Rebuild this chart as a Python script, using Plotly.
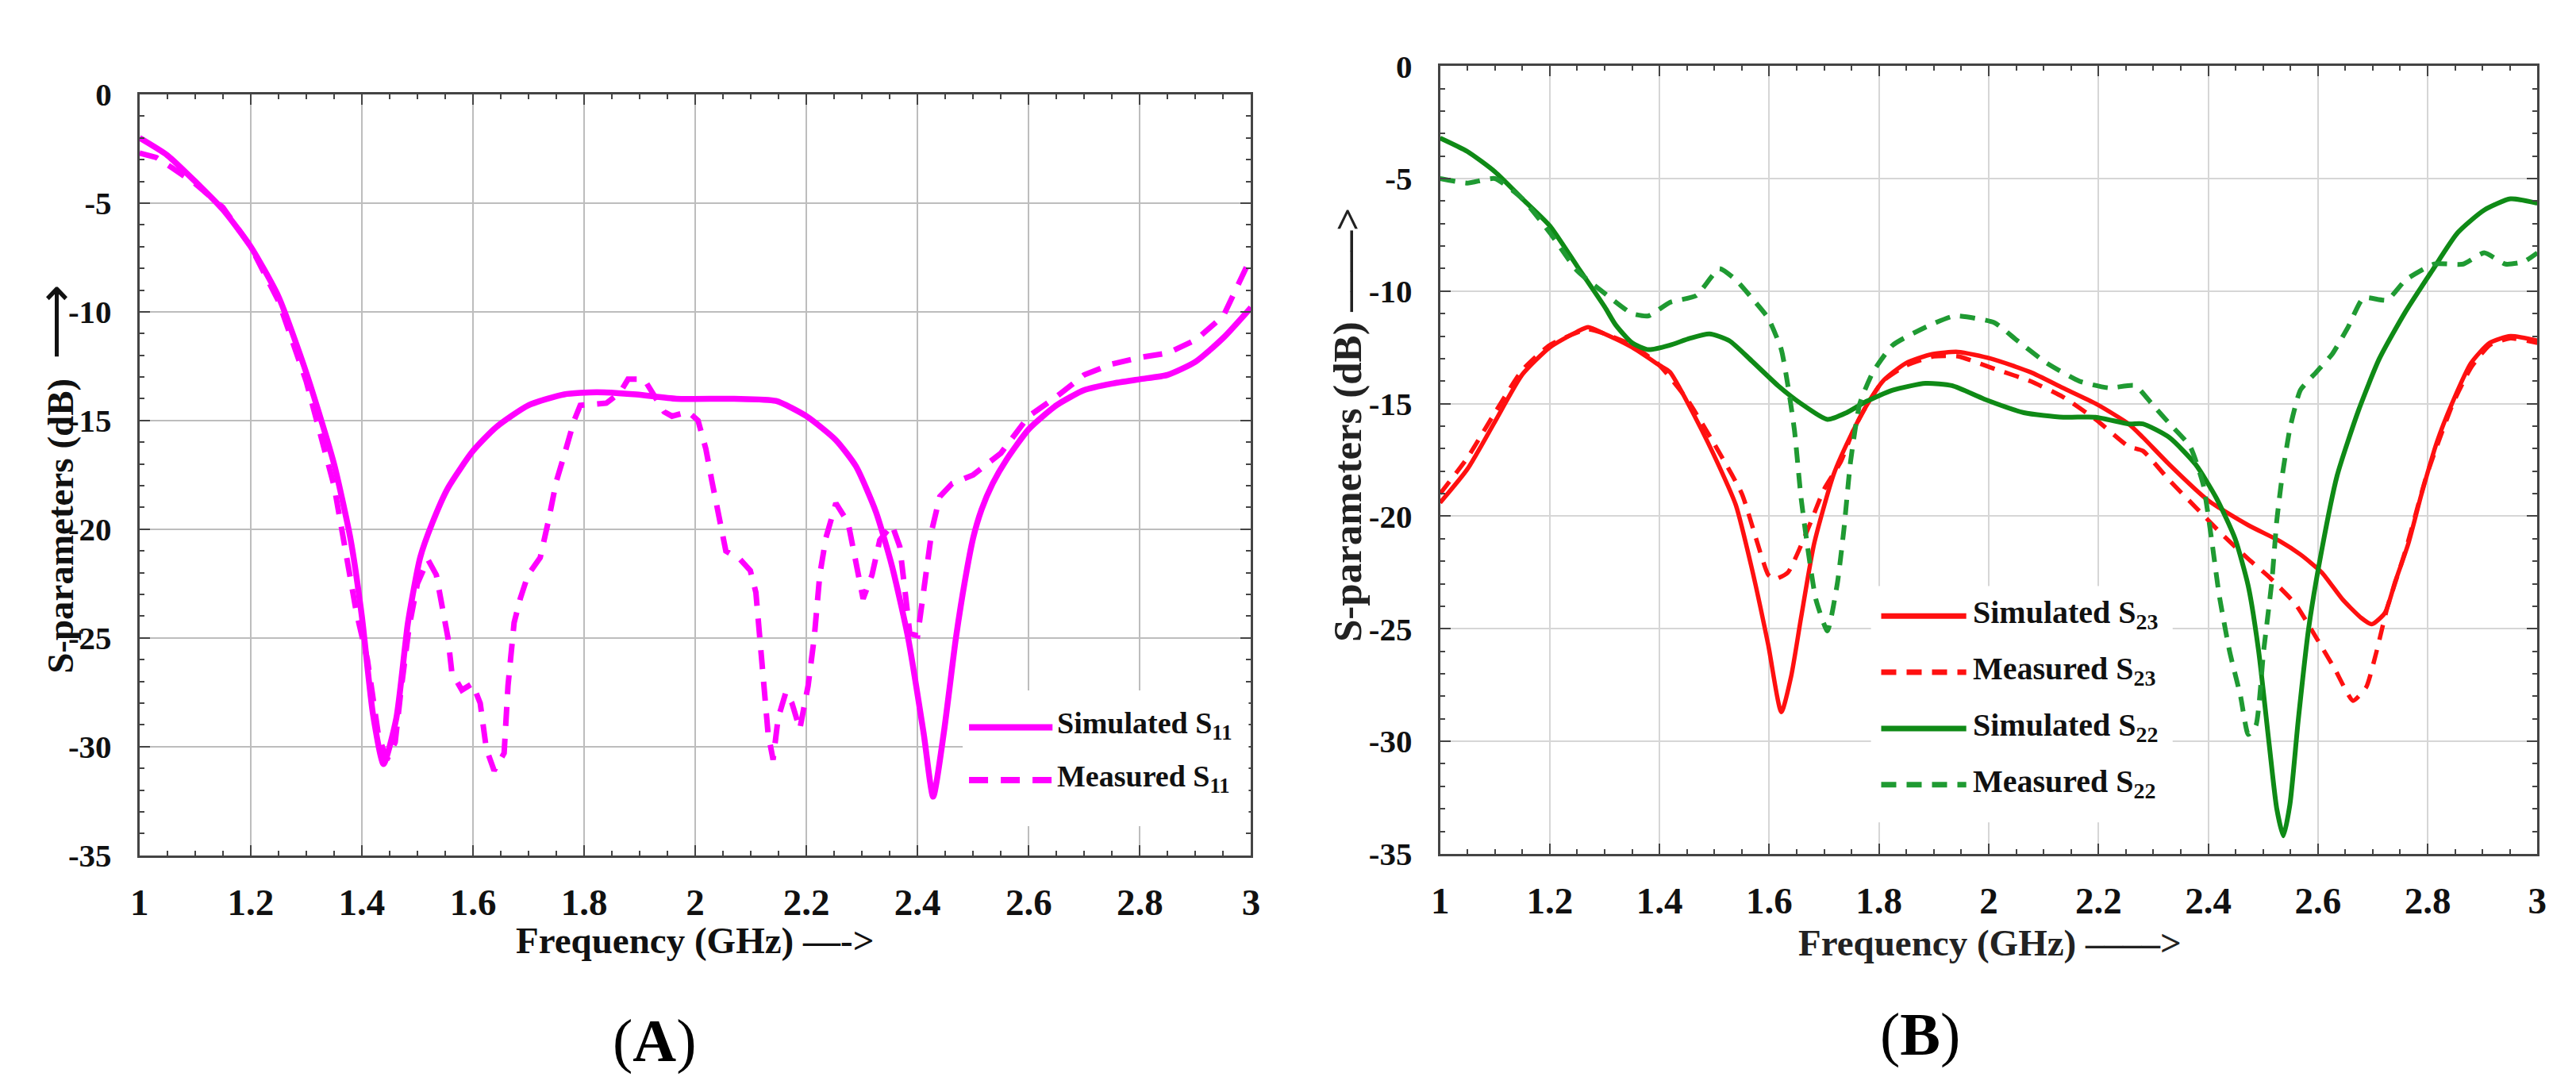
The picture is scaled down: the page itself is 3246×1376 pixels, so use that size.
import plotly.graph_objects as go

# ---------------- Data ----------------
# Panel A : S11
simA_f = [1.00, 1.05, 1.10, 1.15, 1.20, 1.25, 1.30, 1.35, 1.38, 1.40, 1.42, 1.439, 1.462, 1.483,
          1.505, 1.527, 1.555, 1.60, 1.642, 1.70, 1.764, 1.822, 1.894, 1.966, 2.07, 2.145, 2.20,
          2.253, 2.289, 2.325, 2.354, 2.383, 2.411, 2.428, 2.447, 2.469, 2.485, 2.50, 2.515, 2.535,
          2.56, 2.60, 2.65, 2.70, 2.75, 2.80, 2.85, 2.90, 2.95, 3.00]
simA_db = [-2.0, -2.8, -4.0, -5.3, -7.0, -9.3, -12.8, -17.0, -20.5, -24.0, -28.5, -30.8, -28.7, -24.3,
           -21.3, -19.7, -18.1, -16.4, -15.3, -14.3, -13.8, -13.7, -13.8, -14.0, -14.0, -14.1, -14.8,
           -15.9, -17.1, -19.2, -21.7, -25.0, -29.4, -32.3, -29.4, -25.0, -22.4, -20.4, -19.1, -17.9,
           -16.8, -15.4, -14.3, -13.6, -13.3, -13.1, -12.9, -12.3, -11.2, -9.8]

measA_f = [1.00, 1.03, 1.06, 1.10, 1.15, 1.20, 1.25, 1.30, 1.35, 1.37, 1.39, 1.41, 1.43, 1.445, 1.46,
           1.47, 1.485, 1.50, 1.519, 1.534, 1.545, 1.555, 1.562, 1.58, 1.599, 1.613, 1.624, 1.638,
           1.656, 1.663, 1.674, 1.685, 1.699, 1.721, 1.735, 1.75, 1.764, 1.782, 1.793, 1.822, 1.84,
           1.865, 1.879, 1.908, 1.922, 1.944, 1.958, 1.987, 2.005, 2.019, 2.03, 2.041, 2.055, 2.081,
           2.099, 2.109, 2.116, 2.124, 2.131, 2.14, 2.149, 2.163, 2.174, 2.188, 2.203, 2.214, 2.224,
           2.235, 2.253, 2.275, 2.289, 2.302, 2.318, 2.332, 2.354, 2.368, 2.379, 2.386, 2.40, 2.411,
           2.418, 2.426, 2.44, 2.462, 2.50, 2.55, 2.60, 2.65, 2.70, 2.75, 2.80, 2.85, 2.90, 2.95, 3.00]
measA_db = [-2.7, -2.9, -3.4, -4.1, -5.2, -7.0, -9.5, -13.2, -18.0, -21.0, -23.8, -26.0, -29.5, -30.6, -29.8,
            -27.5, -24.5, -22.5, -21.4, -22.1, -23.6, -25.0, -26.6, -27.4, -27.1, -28.0, -30.1, -31.1,
            -30.3, -27.2, -24.3, -23.2, -22.1, -21.3, -19.7, -17.8, -16.6, -15.0, -14.3, -14.25, -14.2,
            -13.7, -13.1, -13.1, -13.7, -14.6, -14.8, -14.6, -15.0, -16.3, -17.8, -19.2, -21.0, -21.4,
            -21.9, -22.9, -25.0, -27.2, -29.4, -30.6, -28.7, -27.5, -28.0, -29.2, -27.2, -25.0, -22.1,
            -20.4, -18.8, -19.7, -21.4, -23.2, -22.1, -20.5, -19.8, -20.8, -23.2, -24.8, -24.9, -22.9,
            -21.4, -20.0, -18.5, -17.9, -17.5, -16.5, -14.8, -13.9, -12.9, -12.4, -12.1, -11.9, -11.3, -10.2, -7.5]

# Panel B : S23 and S22
simS23_f = [1.00, 1.05, 1.10, 1.15, 1.20, 1.25, 1.27, 1.30, 1.35, 1.40, 1.419, 1.467, 1.509, 1.539,
            1.568, 1.598, 1.622, 1.64, 1.658, 1.682, 1.718, 1.753, 1.777, 1.807, 1.849, 1.897, 1.944,
            2.004, 2.076, 2.135, 2.195, 2.255, 2.281, 2.329, 2.40, 2.473, 2.53, 2.568, 2.607, 2.645,
            2.678, 2.698, 2.722, 2.741, 2.765, 2.789, 2.817, 2.846, 2.879, 2.913, 2.951, 3.00]
simS23_db = [-19.4, -17.9, -15.8, -13.7, -12.5, -11.8, -11.6, -11.9, -12.5, -13.3, -13.6, -15.7, -17.8, -19.5,
             -22.3, -25.7, -28.7, -27.1, -24.5, -21.2, -18.1, -16.2, -15.1, -14.0, -13.2, -12.8, -12.7,
             -13.0, -13.6, -14.3, -15.0, -15.9, -16.5, -17.7, -19.3, -20.4, -21.1, -21.7, -22.5, -23.7,
             -24.5, -24.8, -24.3, -22.9, -21.2, -19.0, -16.7, -14.9, -13.2, -12.3, -12.0, -12.2]

measS23_f = [1.00, 1.05, 1.10, 1.15, 1.20, 1.27, 1.35, 1.40, 1.45, 1.50, 1.55, 1.598, 1.61, 1.634, 1.67,
             1.70, 1.73, 1.753, 1.777, 1.807, 1.85, 1.90, 1.944, 2.016, 2.076, 2.135, 2.195, 2.255,
             2.281, 2.329, 2.377, 2.425, 2.473, 2.511, 2.559, 2.597, 2.631, 2.664, 2.688, 2.707, 2.726,
             2.76, 2.798, 2.846, 2.879, 2.913, 2.951, 3.00]
measS23_db = [-19.0, -17.4, -15.4, -13.5, -12.4, -11.7, -12.4, -13.3, -14.8, -16.8, -19.0, -22.6, -22.8, -22.5, -20.6,
              -18.8, -17.6, -16.2, -15.1, -14.0, -13.3, -12.9, -12.9, -13.5, -14.0, -14.7, -15.7, -16.9,
              -17.1, -18.4, -19.6, -20.8, -21.9, -22.7, -23.9, -25.4, -26.8, -28.2, -27.6, -26.0, -24.1,
              -21.5, -18.2, -15.0, -13.4, -12.4, -12.1, -12.3]

simS22_f = [1.00, 1.05, 1.10, 1.15, 1.20, 1.25, 1.30, 1.32, 1.35, 1.38, 1.419, 1.455, 1.491, 1.527,
            1.568, 1.616, 1.658, 1.706, 1.741, 1.777, 1.825, 1.885, 1.933, 1.992, 2.064, 2.136, 2.195,
            2.255, 2.281, 2.329, 2.377, 2.415, 2.449, 2.473, 2.492, 2.511, 2.525, 2.537, 2.549, 2.564,
            2.583, 2.607, 2.635, 2.674, 2.712, 2.76, 2.808, 2.855, 2.903, 2.951, 3.00]
simS22_db = [-3.2, -3.8, -4.7, -5.9, -7.1, -8.9, -10.7, -11.5, -12.3, -12.6, -12.4, -12.1, -11.9, -12.2,
             -13.1, -14.2, -15.0, -15.7, -15.4, -14.9, -14.4, -14.1, -14.2, -14.8, -15.4, -15.6, -15.6,
             -15.9, -15.9, -16.5, -17.7, -19.2, -21.0, -23.1, -26.0, -30.1, -33.0, -34.2, -32.8, -29.1,
             -25.0, -21.5, -18.2, -15.3, -13.0, -10.9, -9.1, -7.4, -6.4, -5.9, -6.1]

measS22_f = [1.00, 1.05, 1.10, 1.15, 1.20, 1.25, 1.30, 1.35, 1.38, 1.419, 1.467, 1.509, 1.539, 1.568,
             1.598, 1.622, 1.634, 1.646, 1.658, 1.67, 1.685, 1.706, 1.724, 1.736, 1.748, 1.765, 1.789,
             1.825, 1.885, 1.938, 2.01, 2.052, 2.106, 2.165, 2.219, 2.267, 2.297, 2.33, 2.367, 2.391,
             2.406, 2.42, 2.439, 2.459, 2.473, 2.487, 2.501, 2.516, 2.525, 2.535, 2.549, 2.568, 2.597,
             2.626, 2.655, 2.683, 2.726, 2.76, 2.812, 2.865, 2.903, 2.942, 2.975, 3.00]
measS22_db = [-5.0, -5.2, -5.0, -5.9, -7.4, -9.1, -10.1, -11.0, -11.1, -10.5, -10.2, -9.0, -9.5, -10.3,
              -11.2, -12.6, -14.2, -16.2, -19.2, -21.4, -23.7, -25.1, -23.0, -20.6, -17.6, -15.0, -13.6,
              -12.4, -11.6, -11.1, -11.4, -12.2, -13.2, -14.0, -14.3, -14.2, -15.0, -15.9, -16.9, -18.6,
              -21.0, -23.5, -26.0, -28.0, -29.7, -29.3, -26.0, -22.9, -20.2, -18.2, -16.1, -14.4, -13.6,
              -12.8, -11.6, -10.3, -10.4, -9.5, -8.8, -8.8, -8.3, -8.8, -8.7, -8.3]

x_ticks = [1, 1.2, 1.4, 1.6, 1.8, 2, 2.2, 2.4, 2.6, 2.8, 3]
x_ticktext = ["1", "1.2", "1.4", "1.6", "1.8", "2", "2.2", "2.4", "2.6", "2.8", "3"]
y_ticks = [0, -5, -10, -15, -20, -25, -30, -35]
y_ticktext = ["0", "-5", "-10", "-15", "-20", "-25", "-30", "-35"]

legendA = ["Simulated S<sub>11</sub>", "Measured S<sub>11</sub>"]
legendB = ["Simulated S<sub>23</sub>", "Measured S<sub>23</sub>",
           "Simulated S<sub>22</sub>", "Measured S<sub>22</sub>"]

# ---------------- Styling ----------------
W, H = 3246, 1376
SERIF = "Liberation Serif, Times New Roman, serif"
MAGENTA = "#ff00ff"
RED = "#ff1010"
GREEN_S = "#0f8a16"
GREEN_M = "#1f9a32"
DASH_A = "24px,16px"
DASH_B = "19px,13px"


def px(x):
    return x / W


def py(y):
    return 1 - y / H


fig = go.Figure()

# Panel A traces
fig.add_trace(go.Scatter(x=simA_f, y=simA_db, mode="lines", name="Simulated S11",
                         line=dict(color=MAGENTA, width=7.5, shape="spline", smoothing=0.6),
                         xaxis="x", yaxis="y", showlegend=False))
fig.add_trace(go.Scatter(x=measA_f, y=measA_db, mode="lines", name="Measured S11",
                         line=dict(color=MAGENTA, width=7, dash=DASH_A),
                         xaxis="x", yaxis="y", showlegend=False))

# Panel B traces
fig.add_trace(go.Scatter(x=simS23_f, y=simS23_db, mode="lines", name="Simulated S23",
                         line=dict(color=RED, width=5.5, shape="spline", smoothing=0.6),
                         xaxis="x2", yaxis="y2", showlegend=False))
fig.add_trace(go.Scatter(x=measS23_f, y=measS23_db, mode="lines", name="Measured S23",
                         line=dict(color=RED, width=5.5, dash=DASH_B, shape="spline", smoothing=0.5),
                         xaxis="x2", yaxis="y2", showlegend=False))
fig.add_trace(go.Scatter(x=simS22_f, y=simS22_db, mode="lines", name="Simulated S22",
                         line=dict(color=GREEN_S, width=6, shape="spline", smoothing=0.6),
                         xaxis="x2", yaxis="y2", showlegend=False))
fig.add_trace(go.Scatter(x=measS22_f, y=measS22_db, mode="lines", name="Measured S22",
                         line=dict(color=GREEN_M, width=6, dash=DASH_B, shape="spline", smoothing=0.5),
                         xaxis="x2", yaxis="y2", showlegend=False))


def xaxis_style(domain, anchor, gridcolor):
    return dict(domain=domain, anchor=anchor, range=[1, 3],
                tickmode="array", tickvals=x_ticks, ticktext=x_ticktext,
                ticks="inside", ticklen=13, tickwidth=2, tickcolor="#444",
                showline=True, linecolor="#444", linewidth=3, mirror="allticks",
                showgrid=True, gridcolor=gridcolor, gridwidth=2, zeroline=False,
                minor=dict(dtick=0.05, tick0=1, ticks="inside", ticklen=6, tickwidth=2,
                           tickcolor="#444", showgrid=False),
                tickfont=dict(family=SERIF, size=47, color="#111", weight="bold"),
                ticklabelstandoff=16)


def yaxis_style(domain, anchor, gridcolor):
    return dict(domain=domain, anchor=anchor, range=[-35, 0],
                tickmode="array", tickvals=y_ticks, ticktext=y_ticktext,
                ticks="inside", ticklen=13, tickwidth=2, tickcolor="#444",
                showline=True, linecolor="#444", linewidth=3, mirror="allticks",
                showgrid=True, gridcolor=gridcolor, gridwidth=2, zeroline=False,
                minor=dict(dtick=1, tick0=0, ticks="inside", ticklen=6, tickwidth=2,
                           tickcolor="#444", showgrid=False),
                tickfont=dict(family=SERIF, size=41, color="#111", weight="bold"),
                ticklabelstandoff=24)


fig.update_layout(
    width=W, height=H, autosize=False,
    margin=dict(l=0, r=0, t=0, b=0),
    paper_bgcolor="white", plot_bgcolor="white",
    showlegend=False,
    xaxis=xaxis_style([px(157), px(1568)], "y", "#bdbdbd"),
    yaxis=yaxis_style([py(1083), py(91)], "x", "#bdbdbd"),
    xaxis2=xaxis_style([px(1808), px(3201)], "y2", "#d6d6d6"),
    yaxis2=yaxis_style([py(1081), py(54)], "x2", "#d6d6d6"),
)

shapes = []
annotations = []

# ---- Manual legends ----
# Panel A
shapes.append(dict(type="rect", xref="paper", yref="paper", layer="above",
                   x0=px(1202), x1=px(1565), y0=py(1045), y1=py(868),
                   fillcolor="white", line=dict(width=0)))
for i, (lab, dash) in enumerate(zip(legendA, ["solid", DASH_A])):
    yy = 916 + i * 69
    shapes.append(dict(type="line", xref="paper", yref="paper", layer="above",
                       x0=px(1210), x1=px(1316), y0=py(yy), y1=py(yy),
                       line=dict(color=MAGENTA, width=8, dash=dash)))
    annotations.append(dict(xref="paper", yref="paper", x=px(1320), y=py(yy - 2),
                            xanchor="left", yanchor="middle", showarrow=False,
                            text=lab,
                            font=dict(family=SERIF, size=38, color="#111", weight="bold")))

# Panel B
shapes.append(dict(type="rect", xref="paper", yref="paper", layer="above",
                   x0=px(2355), x1=px(2738), y0=py(1040), y1=py(732),
                   fillcolor="white", line=dict(width=0)))
colsB = [RED, RED, GREEN_S, GREEN_M]
dashB = ["solid", DASH_B, "solid", DASH_B]
for i, lab in enumerate(legendB):
    yy = 771 + i * 73.3
    shapes.append(dict(type="line", xref="paper", yref="paper", layer="above",
                       x0=px(2368), x1=px(2476), y0=py(yy), y1=py(yy),
                       line=dict(color=colsB[i], width=7, dash=dashB[i])))
    annotations.append(dict(xref="paper", yref="paper", x=px(2482), y=py(yy - 2),
                            xanchor="left", yanchor="middle", showarrow=False,
                            text=lab,
                            font=dict(family=SERIF, size=40, color="#111", weight="bold")))

# ---- Axis titles and panel labels ----
annotations += [
    dict(xref="paper", yref="paper", x=px(862), y=py(1194), xanchor="center", yanchor="middle",
         showarrow=False, text="Frequency (GHz) \u2014-&gt;",
         font=dict(family=SERIF, size=47, color="#111", weight="bold")),
    dict(xref="paper", yref="paper", x=px(50), y=py(592), xanchor="center", yanchor="middle",
         showarrow=False, textangle=-90,
         text="S-parameters (dB)  <span style='font-size:66px;font-weight:normal'>\u27f6</span>",
         font=dict(family=SERIF, size=47, color="#111", weight="bold")),
    dict(xref="paper", yref="paper", x=px(811), y=py(1325), xanchor="center", yanchor="middle",
         showarrow=False, text="(<b>A</b>)",
         font=dict(family=SERIF, size=76, color="#000")),
    dict(xref="paper", yref="paper", x=px(2506), y=py(1197), xanchor="center", yanchor="middle",
         showarrow=False, text="Frequency (GHz) \u2013\u2013\u2013\u2013&gt;",
         font=dict(family=SERIF, size=47, color="#222", weight="bold")),
    dict(xref="paper", yref="paper", x=px(1690), y=py(522), xanchor="center", yanchor="middle",
         showarrow=False, textangle=-90, text="S-parameters (dB) \u2013\u2013\u2013\u2013&gt;",
         font=dict(family=SERIF, size=51, color="#222", weight="bold")),
    dict(xref="paper", yref="paper", x=px(2417), y=py(1316), xanchor="center", yanchor="middle",
         showarrow=False, text="(<b>B</b>)",
         font=dict(family=SERIF, size=76, color="#000")),
]

fig.update_layout(shapes=shapes, annotations=annotations)

fig.write_html("out.html")
